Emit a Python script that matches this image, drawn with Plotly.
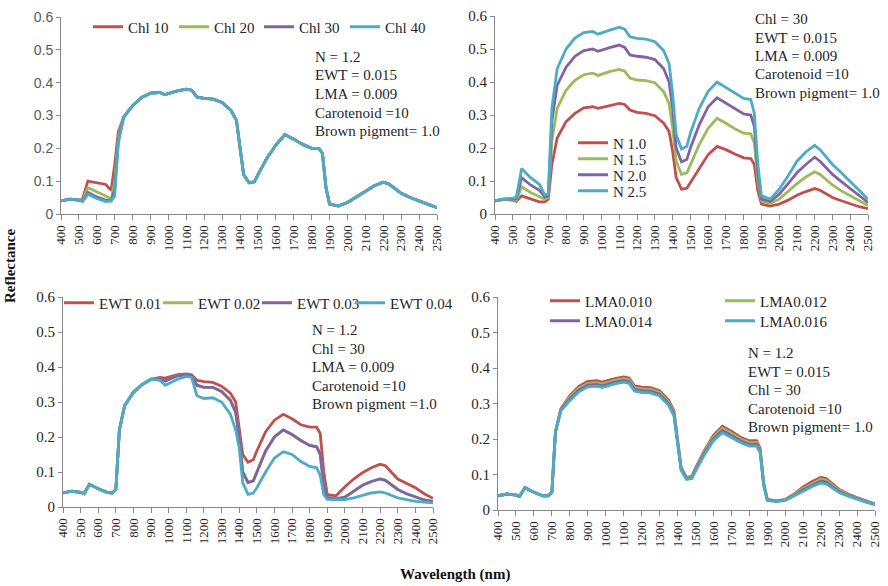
import plotly.graph_objects as go

# ---------------- data ----------------
WAVELENGTH = [400, 450, 500, 520, 550, 600, 650, 680, 700, 720,
              750, 800, 850, 900, 950, 980, 1050, 1100, 1130, 1160,
              1200, 1250, 1300, 1350, 1380, 1400, 1420, 1450, 1480, 1500,
              1550, 1600, 1650, 1700, 1750, 1800, 1840, 1860, 1880, 1900,
              1950, 2000, 2050, 2100, 2150, 2200, 2230, 2300, 2350, 2400,
              2450, 2500]

# Panel (a): chlorophyll
CHL_NAMES = ["Chl 10", "Chl 20", "Chl 30", "Chl 40"]
CHL_10 = [.040, .045, .042, .045, .100, .095, .090, .072, .150, .250,
          .295, .330, .355, .368, .370, .364, .375, .380, .377, .356,
          .352, .350, .340, .315, .285, .200, .120, .095, .098, .120,
          .170, .210, .242, .228, .212, .200, .200, .185, .080, .030,
          .024, .035, .052, .070, .086, .097, .092, .063, .050, .040,
          .029, .019]
CHL_20 = [.040, .045, .042, .042, .080, .068, .055, .045, .100, .235,
          .295, .330, .355, .368, .370, .364, .375, .380, .377, .356,
          .352, .350, .340, .315, .285, .200, .120, .095, .098, .120,
          .170, .210, .242, .228, .212, .200, .200, .185, .080, .030,
          .024, .035, .052, .070, .086, .097, .092, .063, .050, .040,
          .029, .019]
CHL_30 = [.040, .045, .042, .040, .066, .052, .042, .040, .075, .225,
          .295, .330, .355, .368, .370, .364, .375, .380, .377, .356,
          .352, .350, .340, .315, .285, .200, .120, .095, .098, .120,
          .170, .210, .242, .228, .212, .200, .200, .185, .080, .030,
          .024, .035, .052, .070, .086, .097, .092, .063, .050, .040,
          .029, .019]
CHL_40 = [.040, .045, .042, .038, .060, .047, .038, .040, .055, .215,
          .295, .330, .355, .368, .370, .364, .375, .380, .377, .356,
          .352, .350, .340, .315, .285, .200, .120, .095, .098, .120,
          .170, .210, .242, .228, .212, .200, .200, .185, .080, .030,
          .024, .035, .052, .070, .086, .097, .092, .063, .050, .040,
          .029, .019]

# Panel (b): leaf structure N
N_NAMES = ["N 1.0", "N 1.5", "N 2.0", "N 2.5"]
N_10 = [.040, .044, .042, .038, .055, .045, .037, .037, .045, .150,
        .230, .280, .305, .322, .325, .320, .330, .335, .332, .315,
        .308, .305, .298, .275, .250, .190, .110, .075, .078, .095,
        .140, .180, .205, .195, .182, .170, .168, .150, .070, .030,
        .024, .030, .042, .057, .068, .077, .072, .050, .040, .030,
        .022, .016]
N_15 = [.040, .044, .043, .042, .082, .065, .052, .045, .050, .220,
        .320, .375, .405, .422, .427, .420, .432, .438, .433, .412,
        .406, .404, .398, .370, .335, .260, .160, .120, .125, .150,
        .210, .260, .290, .275, .258, .245, .243, .215, .100, .040,
        .032, .045, .068, .092, .112, .128, .120, .088, .070, .055,
        .040, .026]
N_20 = [.040, .045, .045, .046, .110, .088, .072, .052, .055, .280,
        .390, .445, .478, .495, .500, .493, .505, .512, .505, .482,
        .478, .475, .468, .440, .400, .320, .200, .158, .165, .200,
        .270, .325, .352, .335, .318, .303, .300, .265, .120, .045,
        .038, .060, .092, .125, .150, .172, .160, .120, .098, .078,
        .056, .035]
N_25 = [.040, .046, .048, .050, .138, .110, .090, .058, .060, .320,
        .440, .500, .533, .550, .553, .545, .558, .566, .560, .537,
        .532, .530, .522, .495, .455, .365, .240, .197, .205, .245,
        .320, .372, .400, .383, .365, .350, .347, .305, .150, .055,
        .045, .075, .115, .160, .188, .208, .195, .150, .125, .100,
        .072, .045]

# Panel (c): equivalent water thickness
EWT_NAMES = ["EWT 0.01", "EWT 0.02", "EWT 0.03", "EWT 0.04"]
EWT_001 = [.040, .045, .042, .038, .065, .052, .042, .040, .050, .220,
           .290, .328, .350, .365, .370, .368, .378, .380, .378, .362,
           .358, .356, .345, .325, .300, .230, .150, .128, .135, .160,
           .215, .248, .265, .252, .235, .228, .228, .210, .100, .035,
           .032, .058, .080, .098, .112, .122, .118, .080, .068, .055,
           .038, .025]
EWT_002 = [.040, .045, .042, .038, .065, .052, .042, .040, .050, .220,
           .290, .328, .350, .365, .366, .360, .375, .378, .376, .348,
           .342, .342, .330, .305, .270, .200, .100, .070, .075, .100,
           .160, .200, .220, .207, .190, .176, .172, .150, .060, .027,
           .023, .028, .045, .062, .073, .080, .076, .050, .038, .028,
           .020, .016]
EWT_003 = [.040, .045, .042, .038, .065, .052, .042, .040, .050, .220,
           .290, .328, .350, .365, .366, .360, .375, .378, .376, .348,
           .342, .342, .330, .305, .270, .200, .100, .070, .075, .100,
           .160, .200, .220, .207, .190, .176, .172, .150, .060, .027,
           .023, .028, .045, .062, .073, .080, .076, .050, .038, .028,
           .020, .016]
EWT_004 = [.040, .045, .042, .038, .065, .052, .042, .040, .050, .220,
           .290, .328, .350, .365, .362, .348, .365, .373, .370, .318,
           .310, .312, .300, .265, .220, .170, .070, .036, .040, .055,
           .100, .140, .158, .150, .130, .116, .112, .090, .035, .022,
           .021, .021, .026, .033, .040, .043, .040, .026, .020, .016,
           .014, .012]

# Panel (d): leaf mass per area
LMA_NAMES = ["LMA0.010", "LMA0.012", "LMA0.014", "LMA0.016"]
LMA_010 = [.040, .045, .042, .038, .063, .050, .040, .040, .050, .220,
           .285, .322, .348, .362, .364, .360, .370, .375, .372, .350,
           .346, .345, .336, .310, .280, .200, .120, .092, .095, .118,
           .168, .210, .236, .222, .205, .195, .195, .175, .075, .030,
           .026, .030, .045, .065, .080, .092, .088, .058, .045, .035,
           .025, .017]
LMA_012 = [.040, .045, .042, .038, .063, .050, .040, .040, .050, .220,
           .283, .318, .343, .357, .359, .355, .365, .370, .367, .345,
           .341, .340, .331, .305, .275, .196, .117, .090, .093, .115,
           .164, .205, .230, .216, .200, .190, .190, .170, .073, .029,
           .025, .029, .043, .061, .075, .087, .083, .055, .043, .033,
           .024, .016]
LMA_014 = [.040, .045, .042, .038, .063, .050, .040, .040, .050, .220,
           .281, .313, .338, .352, .354, .350, .360, .365, .362, .340,
           .336, .335, .326, .300, .270, .192, .115, .088, .091, .112,
           .160, .200, .224, .210, .195, .185, .185, .166, .071, .028,
           .025, .028, .041, .057, .070, .082, .078, .052, .041, .031,
           .023, .016]
LMA_016 = [.040, .045, .042, .038, .063, .050, .040, .040, .050, .220,
           .279, .308, .333, .347, .349, .345, .355, .360, .357, .335,
           .331, .330, .321, .295, .265, .188, .112, .086, .089, .109,
           .156, .195, .218, .204, .190, .180, .180, .162, .069, .027,
           .024, .027, .039, .053, .066, .076, .073, .049, .039, .030,
           .022, .015]

X_TICKS = list(range(400, 2501, 100))
Y_TICKS = [0, 0.1, 0.2, 0.3, 0.4, 0.5, 0.6]
Y_TICKTEXT = ["0", "0.1", "0.2", "0.3", "0.4", "0.5", "0.6"]

NOTES_A = ["N = 1.2", "EWT = 0.015", "LMA = 0.009", "Carotenoid =10", "Brown pigment= 1.0"]
NOTES_B = ["Chl = 30", "EWT = 0.015", "LMA = 0.009", "Carotenoid =10", "Brown pigment= 1.0"]
NOTES_C = ["N = 1.2", "Chl = 30", "LMA = 0.009", "Carotenoid =10", "Brown pigment =1.0"]
NOTES_D = ["N = 1.2", "EWT = 0.015", "Chl = 30", "Carotenoid =10", "Brown pigment= 1.0"]

COLORS = ["#C0504D", "#9BBB59", "#8064A2", "#4BACC6"]

# ---------------- layout helpers ----------------
W, H = 888, 586
SERIF = "Liberation Serif"
SANS = "Liberation Sans"
TXT = "#262626"


def px(x):
    return x / W


def py(y):
    return 1 - y / H


# panel plot areas in pixels: (left, right, top, bottom)
PANELS = [
    (61, 437, 17, 214),
    (495, 868, 16, 214),
    (63, 433, 297, 507),
    (498, 875, 297, 510),
]
# legend entry anchors in pixels (line start x, centre y), one per trace
LEGEND_POS = [
    [(93, 27), (179, 27), (264, 27), (350, 27)],
    [(578, 143), (578, 159), (578, 175), (578, 191)],
    [(64, 303), (163, 303), (262, 303), (355, 303)],
    [(550, 301), (725, 301), (550, 321), (725, 321)],
]
YTICK_FONT = [
    dict(family=SANS, size=14, color="#595959"),
    dict(family=SERIF, size=15, color=TXT),
    dict(family=SERIF, size=15, color=TXT),
    dict(family=SERIF, size=15, color=TXT),
]

fig = go.Figure()

groups = [
    (CHL_NAMES, [CHL_10, CHL_20, CHL_30, CHL_40]),
    (N_NAMES, [N_10, N_15, N_20, N_25]),
    (EWT_NAMES, [EWT_001, EWT_002, EWT_003, EWT_004]),
    (LMA_NAMES, [LMA_010, LMA_012, LMA_014, LMA_016]),
]

layout = dict(
    template="none",
    width=W, height=H,
    margin=dict(l=0, r=0, t=0, b=0, pad=0),
    paper_bgcolor="white", plot_bgcolor="white",
    font=dict(family=SERIF, color=TXT),
    showlegend=True,
)

LEG_FONT = dict(family=SERIF, size=15, color=TXT)
leg_index = 0
for i, (names, series) in enumerate(groups):
    ax = "" if i == 0 else str(i + 1)
    for j, (nm, ys) in enumerate(zip(names, series)):
        leg_index += 1
        leg_name = "legend" if leg_index == 1 else "legend%d" % leg_index
        lx, ly = LEGEND_POS[i][j]
        layout[leg_name] = dict(
            orientation="h", x=px(lx - 5), y=py(ly), xanchor="left", yanchor="middle",
            font=LEG_FONT, bgcolor="rgba(0,0,0,0)", borderwidth=0, itemwidth=30,
        )
        fig.add_trace(go.Scatter(
            x=WAVELENGTH, y=ys, name=nm, mode="lines",
            line=dict(color=COLORS[j], width=2.8),
            xaxis="x" + ax, yaxis="y" + ax, legend=leg_name,
        ))

for i, (l, r, t, b) in enumerate(PANELS):
    ax = "" if i == 0 else str(i + 1)
    layout["xaxis" + ax] = dict(
        domain=[px(l), px(r)], range=[400, 2500], anchor="y" + ax,
        tickmode="array", tickvals=X_TICKS, ticktext=[str(v) for v in X_TICKS],
        tickangle=-90, ticks="outside", ticklen=5, tickcolor="#888888",
        showline=True, linecolor="#888888", linewidth=1,
        showgrid=False, zeroline=False, automargin=False,
        tickfont=dict(family=SERIF, size=13, color=TXT),
    )
    layout["yaxis" + ax] = dict(
        domain=[py(b), py(t)], range=[0, 0.6], anchor="x" + ax,
        tickmode="array", tickvals=Y_TICKS, ticktext=Y_TICKTEXT,
        ticks="outside", ticklen=4, tickcolor="#888888",
        showline=True, linecolor="#888888", linewidth=1,
        showgrid=False, zeroline=False, automargin=False,
        tickfont=YTICK_FONT[i],
    )

annotations = []
note_pos = [(313, 57), (753, 19), (310, 330), (746, 353)]
for notes, (nx, ny) in zip([NOTES_A, NOTES_B, NOTES_C, NOTES_D], note_pos):
    for k, line in enumerate(notes):
        annotations.append(dict(
            text=line, x=px(nx), y=py(ny + 18.5 * k), xref="paper", yref="paper",
            xanchor="left", yanchor="middle", showarrow=False,
            font=dict(family=SERIF, size=15, color=TXT),
        ))

annotations.append(dict(
    text="<b>Reflectance</b>", x=px(10), y=py(266), xref="paper", yref="paper",
    xanchor="center", yanchor="middle", textangle=-90, showarrow=False,
    font=dict(family=SERIF, size=15, color="#111111"),
))
annotations.append(dict(
    text="<b>Wavelength (nm)</b>", x=px(455), y=py(574), xref="paper", yref="paper",
    xanchor="center", yanchor="middle", showarrow=False,
    font=dict(family=SERIF, size=15, color="#111111"),
))
layout["annotations"] = annotations

fig.update_layout(**layout)
fig.write_html(
    "out.html",
    config={"displayModeBar": False},
    post_script="document.body.style.margin='0px';document.body.style.overflow='hidden';",
)
